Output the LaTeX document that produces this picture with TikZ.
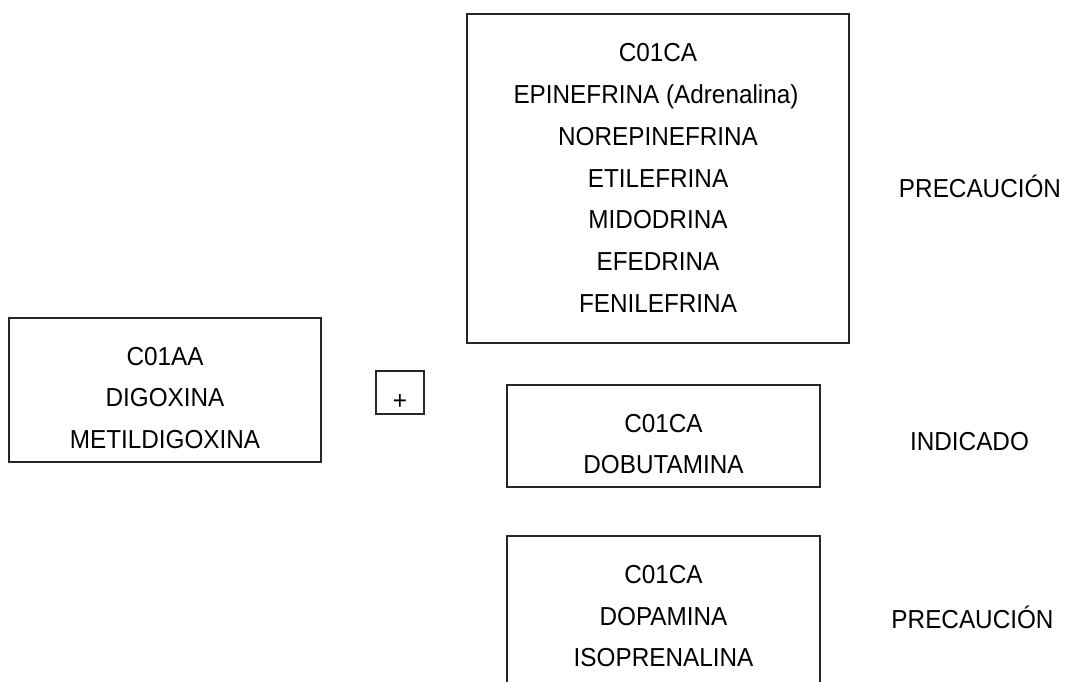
\documentclass[tikz,border=0pt]{standalone}
\usepackage{fontspec}
\setmainfont{Liberation Sans}
\begin{document}
\begin{tikzpicture}[x=1pt,y=-1pt,
  box/.style={draw=black!85,line width=1.1pt,rectangle,inner sep=0pt,outer sep=0pt},
  txt/.style={anchor=base,inner sep=0pt,font=\fontsize{24.3}{30}\selectfont,yscale=1.07,transform shape}]
\useasboundingbox (0,0) rectangle (1066,682);
\clip (0,0) rectangle (1066,682);
% boxes
\node[box,minimum width=312pt,minimum height=144pt] (left) at (165,390) {};
\node[box,minimum width=48pt,minimum height=43pt] (plus) at (400,392.5) {};
\node[box,minimum width=382pt,minimum height=329pt] (top) at (658,178.5) {};
\node[box,minimum width=313pt,minimum height=102pt] (mid) at (663.5,436) {};
\node[box,minimum width=313pt,minimum height=180pt] (bot) at (663.5,626) {};
% left box text
\node[txt] (l1) at (165,365) {C01AA};
\node[txt] (l2) at (165,406) {DIGOXINA};
\node[txt] (l3) at (165,448) {METILDIGOXINA};
% plus
\node[txt] (p1) at (400,409) {+};
% top box text
\node[txt] (t1) at (658,62) {C01CA};
\node[txt] (t2) at (656,104) {EPINEFRINA (Adrenalina)};
\node[txt] (t3) at (658,146) {NOREPINEFRINA};
\node[txt] (t4) at (658,187) {ETILEFRINA};
\node[txt] (t5) at (658,229) {MIDODRINA};
\node[txt] (t6) at (658,270) {EFEDRINA};
\node[txt] (t7) at (658,312) {FENILEFRINA};
% middle box text
\node[txt] (m1) at (663.5,432) {C01CA};
\node[txt] (m2) at (663.5,473) {DOBUTAMINA};
% bottom box text
\node[txt] (b1) at (663.5,583) {C01CA};
\node[txt] (b2) at (663.5,625) {DOPAMINA};
\node[txt] (b3) at (663.5,666) {ISOPRENALINA};
% labels
\node[txt] (r1) at (980,197) {PRECAUCIÓN};
\node[txt] (r2) at (969.5,450) {INDICADO};
\node[txt] (r3) at (972.5,628) {PRECAUCIÓN};
\end{tikzpicture}
\end{document}
